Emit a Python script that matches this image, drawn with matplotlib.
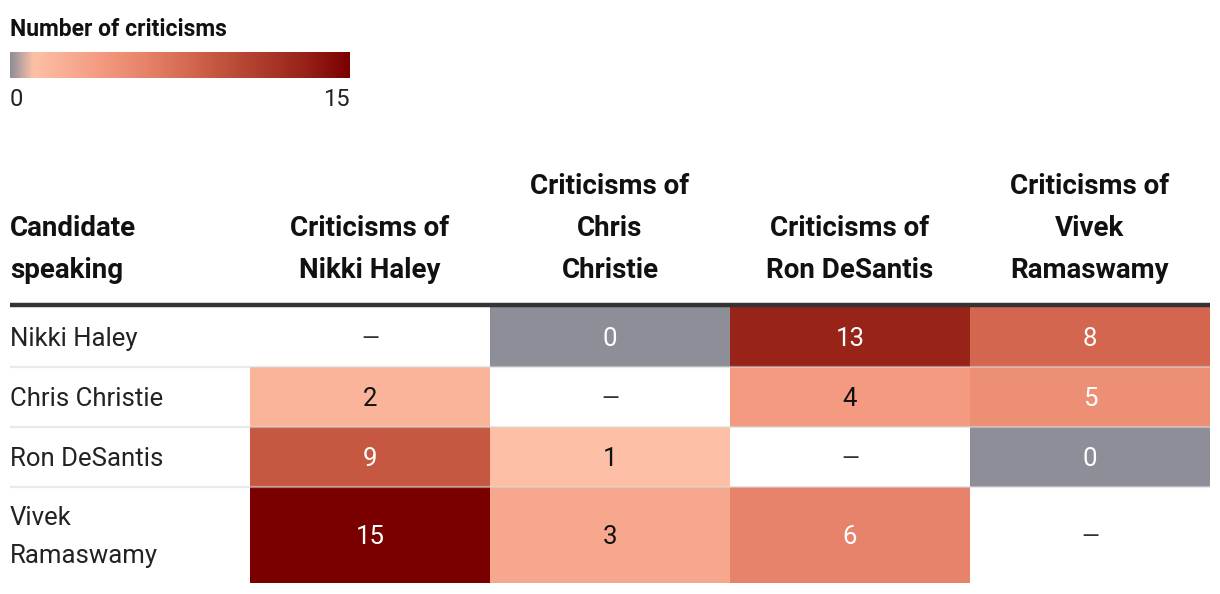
import numpy as np
import matplotlib
matplotlib.use("Agg")
import matplotlib.pyplot as plt
from matplotlib.colors import LinearSegmentedColormap

speakers = ["Nikki Haley", "Chris Christie", "Ron DeSantis", "Vivek\nRamaswamy"]
targets = ["Criticisms of\nNikki Haley", "Criticisms of\nChris\nChristie",
           "Criticisms of\nRon DeSantis", "Criticisms of\nVivek\nRamaswamy"]
# rows = candidate speaking, cols = target; nan = self
counts = np.array([
    [np.nan, 0, 13, 8],
    [2, np.nan, 4, 5],
    [9, 1, np.nan, 0],
    [15, 3, 6, np.nan],
])
vmin, vmax = 0, 15

plt.rcParams['font.family'] = ['Roboto', 'DejaVu Sans']

# colour scale: grey for zero, then peach -> dark red
stops = [0, 1, 2, 4, 6, 8, 9, 13, 15]
stop_colors = ["#8e8e98", "#fdc0a6", "#f9b49a", "#f39a80", "#e6836a",
               "#d4664f", "#c65841", "#982319", "#7a0000"]
cmap = LinearSegmentedColormap.from_list(
    "crit", [(s / vmax, c) for s, c in zip(stops, stop_colors)])

fig = plt.figure(figsize=(12.2, 5.94), dpi=100)
ax = fig.add_axes([0, 0, 1, 1])
ax.set_xlim(0, 1220)
ax.set_ylim(594, 0)
ax.axis("off")

# legend
ax.text(10, 29, "Number of criticisms", fontsize=16.5, fontweight="bold",
        va="center", ha="left", color="#111111")
grad = np.linspace(vmin, vmax, 512)[None, :]
ax.imshow(grad, extent=[10, 350, 78, 52], cmap=cmap, vmin=vmin, vmax=vmax,
          aspect="auto", interpolation="bilinear")
ax.text(10, 99, "0", fontsize=17, va="center", ha="left", color="#222222")
ax.text(350, 99, "15", fontsize=17, va="center", ha="right", color="#222222")

# grid geometry
col_edges = np.array([250, 490, 730, 970, 1210])
row_edges = np.array([307, 367, 427, 487, 583])
col_mid = (col_edges[:-1] + col_edges[1:]) / 2
row_mid = (row_edges[:-1] + row_edges[1:]) / 2

masked = np.ma.masked_invalid(counts)
ax.pcolormesh(col_edges, row_edges, masked, cmap=cmap, vmin=vmin, vmax=vmax,
              shading="flat")

# header
baselines = [194, 236, 278]
head_lines = ["Candidate", "speaking"]
for k, line in enumerate(head_lines):
    ax.text(10, baselines[3 - len(head_lines) + k], line, fontsize=20,
            fontweight="bold", ha="left", va="baseline", color="#111111")
for j, lab in enumerate(targets):
    lines = lab.split("\n")
    for k, line in enumerate(lines):
        ax.text(col_mid[j], baselines[3 - len(lines) + k], line, fontsize=20,
                fontweight="bold", ha="center", va="baseline", color="#111111")

ax.plot([10, 1210], [305, 305], color="#333333", lw=3.2, solid_capstyle="butt")

# row separators
for y in row_edges[1:-1]:
    ax.plot([10, 1210], [y, y], color="#d8d8d8", lw=1.6, alpha=0.55,
            solid_capstyle="butt")

# row labels and cell values
fs = 18.5
for i, name in enumerate(speakers):
    yc = row_mid[i] + 2
    if "\n" in name:
        a, b = name.split("\n")
        ax.text(10, yc - 19, a, fontsize=fs, ha="left", va="center", color="#222222")
        ax.text(10, yc + 19, b, fontsize=fs, ha="left", va="center", color="#222222")
    else:
        ax.text(10, yc, name, fontsize=fs, ha="left", va="center", color="#222222")
    for j in range(len(targets)):
        v = counts[i, j]
        if np.isnan(v):
            ax.text(col_mid[j], yc, "—", fontsize=fs - 2,
                    ha="center", va="center", color="#333333")
        else:
            tc = "white" if (v == 0 or v >= 5) else "#111111"
            ax.text(col_mid[j], yc, f"{int(v)}", fontsize=fs,
                    ha="center", va="center", color=tc)

fig.savefig("out.png", dpi=100, facecolor="white")
